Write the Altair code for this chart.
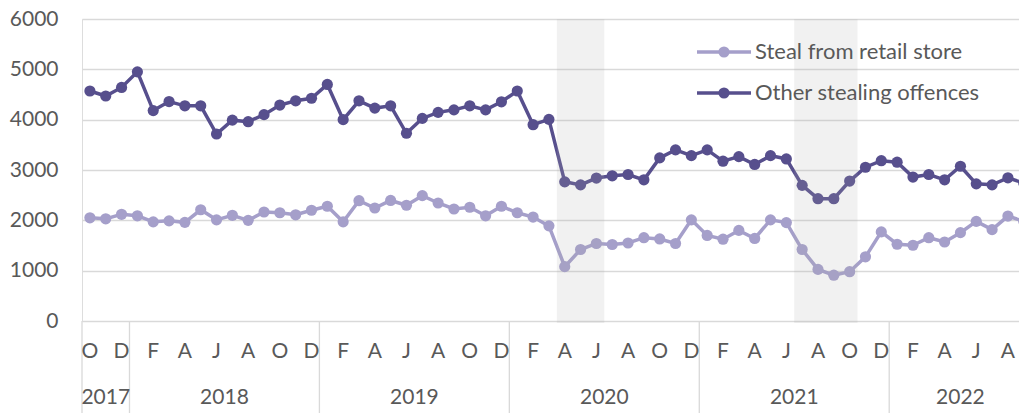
import altair as alt
import pandas as pd

# ---------------- data ----------------
series_names = ["Steal from retail store", "Other stealing offences"]
series_colors = ["#A59FCA", "#574F8D"]

retail = [2050, 2030, 2120, 2090, 1970, 1990, 1960, 2210, 2010, 2100, 2000, 2165,
          2150, 2110, 2200, 2280, 1970, 2390, 2245, 2395, 2300, 2490, 2345, 2225,
          2260, 2090, 2280, 2150, 2065, 1890, 1080, 1420, 1540, 1520, 1550, 1655,
          1630, 1540, 2010, 1700, 1625, 1800, 1640, 2010, 1955, 1420, 1025, 910,
          980, 1275, 1770, 1525, 1505, 1655, 1570, 1755, 1980, 1815, 2085, 1980]

other = [4570, 4470, 4640, 4950, 4180, 4360, 4275, 4275, 3715, 3990, 3960, 4100,
         4290, 4375, 4425, 4700, 4000, 4375, 4230, 4275, 3730, 4025, 4145, 4195,
         4275, 4195, 4355, 4570, 3900, 4005, 2765, 2705, 2840, 2885, 2910, 2805,
         3240, 3400, 3285, 3400, 3175, 3265, 3110, 3285, 3220, 2695, 2430, 2430,
         2780, 3055, 3185, 3155, 2860, 2910, 2805, 3075, 2725, 2705, 2845, 2740]

first_month = "2017-10"
shade_starts = ["2020-04", "2021-07"]
shade_ends = ["2020-06", "2021-10"]
y_ticks = [0, 1000, 2000, 3000, 4000, 5000, 6000]

# ---------------- derived tables ----------------
months = pd.date_range(first_month, periods=len(retail), freq="MS")
n = len(months)
idx = list(range(n))

df = pd.DataFrame({
    "i": idx + idx,
    "value": retail + other,
    "series": [series_names[0]] * n + [series_names[1]] * n,
})

month_df = pd.DataFrame({
    "i": [k for k in idx if k % 2 == 0],
    "letter": [months[k].strftime("%b")[0] for k in idx if k % 2 == 0],
})

year_vals = sorted(set(months.year))
year_center, year_start = [], []
for yv in year_vals:
    ks = [k for k in idx if months[k].year == yv]
    year_center.append((ks[0] + ks[-1]) / 2)
    year_start.append(ks[0] - 0.5)
year_df = pd.DataFrame({"year": [str(v) for v in year_vals], "c": year_center})
sep_df = pd.DataFrame({"b": year_start})

def month_index(s):
    t = pd.Timestamp(s)
    return (t.year - months[0].year) * 12 + (t.month - months[0].month)

shade_df = pd.DataFrame({
    "s": [month_index(s) - 0.5 for s in shade_starts],
    "e": [month_index(e) + 0.5 for e in shade_ends],
})

# ---------------- styling ----------------
FONT = "Lato"
FS = 21
TXT = "#595959"
GRID = "#D9D9D9"
W, H = 937, 302
TOP = 11

xscale = alt.Scale(domain=[-0.5, n - 1.3], nice=False, zero=False)
yscale = alt.Scale(domain=[0, 6000], nice=False, zero=True)
color = alt.Color("series:N", scale=alt.Scale(domain=series_names, range=series_colors), legend=None)

base = alt.Chart(df).encode(
    x=alt.X("i:Q", scale=xscale, axis=None),
    y=alt.Y("value:Q", scale=yscale,
            axis=alt.Axis(values=y_ticks, format="d", grid=True, gridColor=GRID, gridWidth=1.3,
                          domain=False, ticks=False, labelFontSize=FS, labelColor=TXT,
                          labelFont=FONT, labelPadding=24, title=None)),
    color=color,
    detail="series:N",
)
lines = base.mark_line(strokeWidth=3.5)
points = base.mark_point(filled=True, size=125, opacity=1)

shade = alt.Chart(shade_df).mark_rect(color="#AAAAAA", opacity=0.17).encode(
    x=alt.X("s:Q", scale=xscale, axis=None), x2="e:Q",
    y=alt.value(0), y2=alt.value(H + 2),
)

seps = alt.Chart(sep_df).mark_rule(color=GRID, strokeWidth=1.3).encode(
    x=alt.X("b:Q", scale=xscale, axis=None), y=alt.value(H), y2=alt.value(H + 92),
)

month_txt = alt.Chart(month_df).mark_text(font=FONT, fontSize=FS, color=TXT, baseline="middle").encode(
    x=alt.X("i:Q", scale=xscale, axis=None), y=alt.value(H + 31), text="letter:N",
)
year_txt = alt.Chart(year_df).mark_text(font=FONT, fontSize=FS, color=TXT, baseline="middle").encode(
    x=alt.X("c:Q", scale=xscale, axis=None), y=alt.value(H + 77), text="year:N",
)

legend_layers = []
for k, (name, col) in enumerate(zip(series_names, series_colors)):
    ly = 52 - 8 - TOP + 41 * k
    ldf = pd.DataFrame({"name": [name]})
    legend_layers.append(alt.Chart(ldf).mark_rule(color=col, strokeWidth=3.5).encode(
        x=alt.value(615), x2=alt.value(669), y=alt.value(ly)))
    legend_layers.append(alt.Chart(ldf).mark_point(filled=True, size=125, opacity=1, color=col).encode(
        x=alt.value(642), y=alt.value(ly)))
    legend_layers.append(alt.Chart(ldf).mark_text(font=FONT, fontSize=22, color=TXT, align="left",
                                                   baseline="middle").encode(
        x=alt.value(673), y=alt.value(ly), text="name:N"))

chart = alt.layer(lines, points, shade, seps, month_txt, year_txt, *legend_layers).properties(
    width=W, height=H,
    padding={"left": 74, "top": TOP, "right": 0, "bottom": 92},
    autosize=alt.AutoSizeParams(type="none"),
).configure_view(stroke=None).configure(background="white")

chart.save("out.html", embed_options={"renderer": "svg", "actions": False})
